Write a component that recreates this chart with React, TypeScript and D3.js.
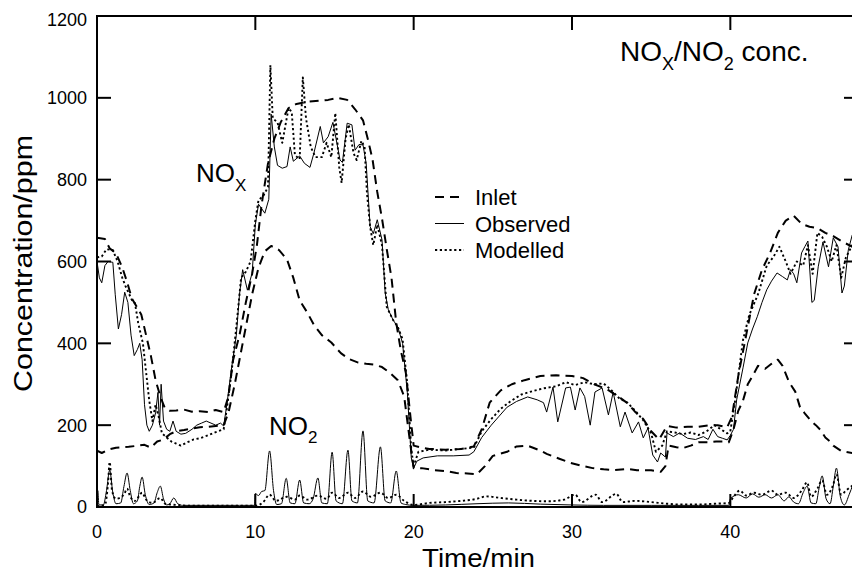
import React from "react";
import * as d3 from "d3";

type Pt = [number, number];

// x tick values (min) and y tick values (ppm)
const xTicks = [0, 10, 20, 30, 40];
const yTicks = [0, 200, 400, 600, 800, 1000, 1200];

const legendLabels = ["Inlet", "Observed", "Modelled"];

// Inlet NOx (upper dashed)
const inletNOx: Pt[] = [
  [0, 658], [0.5, 655], [0.8, 632], [1.2, 620], [1.6, 585], [1.9, 550], [2.2, 510], [2.5, 490], [2.8, 470],
  [3.1, 420], [3.4, 370], [3.7, 310], [4.0, 270], [4.3, 240], [4.6, 235], [5, 236], [5.5, 238], [6, 233],
  [6.5, 234], [7, 232], [7.5, 237], [8, 232], [8.3, 270], [8.6, 360], [9, 420], [9.4, 500], [9.8, 570],
  [10.1, 640], [10.4, 740], [10.8, 840], [11.2, 900], [11.6, 940], [12.1, 975], [12.6, 985], [13.2, 990],
  [14, 993], [14.6, 995], [15.2, 1000], [15.8, 995], [16.3, 972], [16.8, 945], [17.1, 900], [17.4, 850],
  [17.7, 770], [18, 705], [18.3, 630], [18.6, 560], [18.9, 450], [19.2, 380], [19.5, 330], [19.8, 220],
  [20, 150], [20.5, 145], [21, 142], [22, 140], [23, 142], [23.8, 148], [24.3, 190], [24.8, 255], [25.5, 285],
  [26.2, 300], [27, 310], [28, 320], [29, 322], [30, 320], [30.7, 315], [31.4, 300], [32.2, 288], [33, 268],
  [33.5, 254], [34, 232], [34.5, 215], [35, 185], [35.5, 165], [36, 198], [36.6, 194], [37.3, 196], [38, 196],
  [38.7, 200], [39.2, 200], [39.8, 195], [40.1, 220], [40.5, 320], [41, 420], [41.5, 520], [42, 580],
  [42.5, 620], [43, 670], [43.5, 700], [44, 712], [44.5, 692], [45, 685], [45.5, 682], [46, 670], [46.5, 662],
  [47, 650], [48, 630],
];

// Second inlet trace (lower dashed)
const inletNO2: Pt[] = [
  [0, 138], [0.3, 132], [0.7, 140], [1.2, 145], [2.0, 147], [2.6, 150], [3.0, 152], [3.4, 145], [3.8, 160],
  [4.2, 165], [4.6, 178], [5.0, 185], [5.5, 188], [6.0, 192], [6.5, 195], [7.0, 196], [7.5, 198], [8.0, 200],
  [8.3, 230], [8.7, 300], [9.0, 360], [9.4, 440], [9.8, 520], [10.2, 585], [10.6, 625], [11.0, 638],
  [11.5, 628], [12.0, 605], [12.4, 560], [12.8, 505], [13.3, 474], [13.7, 445], [14.2, 420], [14.8, 402],
  [15.4, 376], [15.9, 362], [16.5, 353], [17.0, 350], [17.5, 348], [18.0, 342], [18.5, 328], [19.0, 310],
  [19.4, 270], [19.8, 150], [20.0, 95], [20.5, 95], [21.3, 90], [22, 88], [22.7, 83], [23.4, 82], [24, 80],
  [24.5, 100], [25, 125], [25.9, 135], [26.5, 148], [27.2, 150], [28.0, 138], [28.4, 130], [29.2, 118],
  [29.9, 108], [30.7, 100], [31.3, 95], [32, 92], [32.6, 90], [33.5, 93], [34.1, 90], [35, 90], [35.6, 86],
  [35.9, 100], [36.1, 150], [36.6, 146], [37, 144], [37.5, 150], [38, 158], [38.6, 158], [39.1, 160],
  [39.5, 160], [39.9, 158], [40.2, 190], [40.5, 235], [40.8, 260], [41.1, 300], [41.4, 320], [41.75, 345],
  [42.2, 338], [42.6, 350], [43.0, 360], [43.3, 345], [43.7, 306], [44.1, 282], [44.4, 244], [44.7, 229],
  [45.1, 210], [45.4, 200], [45.7, 188], [46.0, 170], [46.3, 160], [46.5, 150], [47.0, 137], [48, 130],
];

// Observed NOx (solid)
const observedNOx: Pt[] = [
  [0, 600], [0.15, 560], [0.3, 548], [0.5, 590], [0.7, 600], [1.0, 598], [1.15, 520], [1.35, 435], [1.55, 470],
  [1.75, 525], [1.95, 500], [2.15, 420], [2.35, 370], [2.55, 385], [2.7, 400], [2.85, 360], [3.0, 250],
  [3.15, 200], [3.3, 185], [3.5, 200], [3.7, 230], [3.85, 280], [3.95, 200], [4.05, 300], [4.2, 210],
  [4.4, 190], [4.6, 185], [4.8, 210], [5.0, 185], [5.3, 178], [5.6, 180], [6.0, 190], [6.3, 200], [6.6, 205],
  [6.9, 210], [7.2, 205], [7.5, 200], [7.8, 205], [8.0, 198], [8.2, 250], [8.5, 340], [8.8, 420], [9.0, 520],
  [9.2, 580], [9.5, 530], [9.8, 572], [10.0, 690], [10.2, 740], [10.6, 718], [10.85, 752], [11.0, 960],
  [11.2, 880], [11.4, 835], [11.7, 828], [12.0, 832], [12.2, 880], [12.4, 845], [12.8, 858], [13.1, 840],
  [13.45, 830], [13.7, 865], [14.1, 930], [14.3, 890], [14.6, 905], [14.9, 940], [15.1, 900], [15.35, 848],
  [15.5, 842], [15.8, 938], [16.1, 934], [16.3, 872], [16.55, 886], [16.8, 885], [17.0, 840], [17.25, 685],
  [17.45, 668], [17.7, 702], [18.0, 653], [18.2, 523], [18.4, 482], [18.7, 457], [19.0, 440], [19.3, 400],
  [19.6, 280], [19.85, 120], [20.0, 95], [20.2, 112], [20.6, 120], [21.5, 125], [22.5, 125], [23.5, 127],
  [23.8, 135], [24.3, 170], [24.9, 200], [25.4, 222], [25.9, 244], [26.5, 258], [27.2, 269], [27.8, 262],
  [28.2, 255], [28.4, 232], [28.8, 293], [29.1, 208], [29.6, 291], [29.9, 293], [30.2, 237], [30.5, 291],
  [30.8, 270], [31.15, 200], [31.45, 281], [31.9, 291], [32.3, 225], [32.6, 281], [33.05, 196], [33.35, 232],
  [33.8, 181], [34.2, 208], [34.5, 169], [34.8, 193], [35.1, 127], [35.4, 110], [35.6, 132], [35.9, 122],
  [36.0, 181], [36.4, 172], [36.8, 181], [37.3, 168], [37.8, 165], [38.3, 172], [38.6, 165], [38.9, 190],
  [39.2, 172], [39.5, 168], [39.8, 164], [40.0, 175], [40.2, 190], [40.4, 262], [40.8, 340], [41.1, 401],
  [41.4, 435], [41.7, 465], [42.0, 500], [42.3, 531], [42.6, 552], [42.95, 572], [43.3, 563], [43.6, 555],
  [43.8, 580], [44.0, 570], [44.2, 548], [44.5, 621], [44.7, 636], [44.9, 650], [45.15, 500], [45.3, 505],
  [45.55, 587], [45.85, 648], [46.2, 587], [46.5, 658], [46.8, 636], [47.05, 523], [47.2, 540], [47.45, 628],
  [47.7, 665], [48, 660],
];

// Modelled NOx (dotted)
const modelledNOx: Pt[] = [
  [0, 610], [0.3, 612], [0.6, 630], [1.0, 628], [1.3, 600], [1.6, 560], [1.8, 540], [2.0, 523], [2.2, 506],
  [2.4, 498], [2.6, 450], [2.9, 400], [3.1, 330], [3.3, 260], [3.5, 210], [3.7, 250], [3.9, 220], [4.1, 180],
  [4.4, 170], [4.7, 160], [5.0, 155], [5.3, 150], [5.7, 158], [6.1, 165], [6.5, 168], [7.0, 175], [7.5, 183],
  [8.0, 190], [8.2, 240], [8.5, 330], [8.8, 440], [9.1, 560], [9.4, 575], [9.7, 600], [10.0, 700],
  [10.2, 750], [10.5, 760], [10.8, 782], [10.95, 1080], [11.1, 950], [11.4, 940], [11.7, 890], [12.1, 975],
  [12.3, 965], [12.5, 860], [12.8, 850], [13.0, 1050], [13.2, 950], [13.5, 880], [13.8, 855], [14.2, 855],
  [14.5, 890], [14.8, 855], [15.05, 963], [15.3, 830], [15.45, 792], [15.7, 900], [15.9, 935], [16.2, 865],
  [16.4, 848], [16.7, 895], [16.9, 880], [17.05, 767], [17.25, 685], [17.45, 640], [17.7, 690], [18.0, 640],
  [18.3, 489], [18.7, 457], [19.0, 440], [19.3, 410], [19.6, 300], [19.85, 140], [20.0, 100], [20.3, 135],
  [21, 140], [22, 138], [23, 142], [23.8, 145], [24.3, 185], [24.9, 215], [25.5, 240], [26.1, 258],
  [26.8, 275], [27.5, 283], [28.2, 290], [29, 295], [29.6, 305], [30.2, 298], [30.8, 305], [31.4, 300],
  [32, 302], [32.5, 285], [33, 265], [33.5, 255], [34, 235], [34.5, 212], [35.0, 180], [35.3, 135],
  [35.7, 150], [36.0, 185], [36.5, 182], [37, 178], [37.5, 182], [38, 176], [38.5, 185], [39.0, 200],
  [39.4, 190], [39.8, 180], [40.0, 185], [40.3, 260], [40.8, 408], [41.2, 470], [41.75, 520], [42.3, 590],
  [42.7, 610], [43.1, 636], [43.5, 600], [43.8, 570], [44.2, 600], [44.6, 590], [44.9, 640], [45.2, 570],
  [45.5, 670], [45.8, 660], [46.1, 636], [46.4, 600], [46.7, 640], [47.0, 560], [47.3, 610], [47.7, 640],
  [48, 630],
];

// Observed NO2 (solid)
const observedNO2: Pt[] = [
  [0, 3], [0.05, 40], [0.12, 5], [0.4, 5], [0.6, 40], [0.8, 90], [1.0, 35], [1.2, 8], [1.5, 10], [1.7, 50],
  [1.9, 83], [2.1, 40], [2.3, 8], [2.55, 15], [2.7, 50], [2.85, 73], [3.05, 30], [3.3, 6], [3.6, 10],
  [3.8, 35], [4.0, 51], [4.2, 20], [4.4, 5], [4.6, 8], [4.85, 22], [5.1, 8], [5.4, 4], [6, 4], [7, 4], [8, 4],
  [9, 4], [9.95, 4], [10.0, 33], [10.2, 28], [10.4, 38], [10.6, 40], [10.9, 137], [11.15, 40], [11.35, 6],
  [11.65, 8], [11.95, 70], [12.2, 10], [12.5, 8], [12.8, 66], [13.05, 10], [13.4, 8], [13.65, 20],
  [13.95, 71], [14.2, 10], [14.55, 8], [14.85, 134], [15.1, 15], [15.5, 8], [15.85, 139], [16.1, 15],
  [16.45, 10], [16.8, 186], [17.1, 15], [17.5, 10], [17.9, 147], [18.2, 15], [18.55, 10], [18.9, 88],
  [19.2, 10], [19.5, 6], [20, 4], [22, 5], [24, 8], [26, 10], [28, 7], [30, 5], [32, 4], [35, 4], [38, 4],
  [39.9, 4], [40.0, 20], [40.5, 30], [41.0, 22], [41.4, 32], [41.8, 24], [42.2, 30], [42.6, 22], [43.0, 30],
  [43.4, 15], [43.7, 25], [44.0, 12], [44.3, 8], [44.6, 35], [44.85, 51], [45.1, 10], [45.4, 8], [45.6, 45],
  [45.8, 76], [46.05, 20], [46.3, 8], [46.5, 50], [46.7, 95], [46.95, 25], [47.2, 5], [47.5, 30], [48, 85],
];

// Modelled NO2 (dotted)
const modelledNO2: Pt[] = [
  [0, 2], [0.5, 5], [0.7, 60], [0.8, 110], [0.95, 40], [1.2, 20], [1.7, 30], [1.9, 45], [2.1, 25], [2.4, 15],
  [2.85, 35], [3.1, 18], [3.5, 10], [4.0, 22], [4.3, 8], [5, 5], [6, 3], [8, 3], [10, 3], [10.5, 12],
  [10.9, 30], [11.3, 15], [12, 25], [12.5, 18], [12.8, 28], [13.3, 18], [13.95, 28], [14.5, 20], [14.85, 35],
  [15.3, 22], [15.85, 35], [16.3, 22], [16.8, 38], [17.3, 25], [17.9, 35], [18.4, 22], [18.9, 30],
  [19.4, 15], [20, 5], [21, 10], [22, 12], [23, 15], [24, 20], [24.6, 26], [25.5, 22], [26.5, 18],
  [27.5, 15], [28.5, 14], [29.5, 18], [30.2, 30], [30.6, 12], [31.5, 30], [31.9, 12], [32.8, 32], [33.2, 12],
  [34, 15], [35, 12], [36, 8], [37, 6], [38, 6], [39, 8], [39.9, 10], [40.2, 25], [40.6, 40], [41, 28],
  [41.5, 35], [42, 30], [42.6, 40], [43, 30], [43.5, 35], [44, 22], [44.5, 40], [44.85, 60], [45.1, 25],
  [45.5, 45], [45.8, 65], [46.1, 30], [46.5, 55], [46.7, 80], [47, 30], [47.3, 40], [48, 60],
];

const W = 852;
const H = 574;
const FONT = "'Liberation Sans', Arial, Helvetica, sans-serif";

export default function App() {
  const x = d3.scaleLinear().domain([0, 48]).range([97, 857]);
  const y = d3.scaleLinear().domain([0, 1200]).range([507, 16]);
  const line = d3.line<Pt>().x((d) => x(d[0])).y((d) => y(d[1]));
  const smooth = d3
    .line<Pt>()
    .x((d) => x(d[0]))
    .y((d) => y(d[1]))
    .curve(d3.curveMonotoneX);

  const dashed = { stroke: "#000", strokeWidth: 2, strokeDasharray: "9 6", fill: "none" };
  const solid = { stroke: "#000", strokeWidth: 1, fill: "none" };
  const dotted = { stroke: "#000", strokeWidth: 1.9, strokeDasharray: "2.2 2.6", fill: "none" };

  const series: { data: Pt[]; style: any; gen: any }[] = [
    { data: inletNOx, style: dashed, gen: line },
    { data: inletNO2, style: dashed, gen: line },
    { data: modelledNOx, style: dotted, gen: line },
    { data: observedNOx, style: solid, gen: line },
    { data: modelledNO2, style: dotted, gen: smooth },
    { data: observedNO2, style: solid, gen: smooth },
  ];

  const [x0, x1] = x.range();
  const [y0, y1] = y.range();
  const legendStyles = [dashed, solid, dotted];

  return (
    <svg
      width={W}
      height={H}
      style={{ position: "absolute", left: 0, top: 0, background: "#fff" }}
      fontFamily={FONT}
    >
      <defs>
        <clipPath id="plotclip">
          <rect x={x0} y={y1 - 2} width={x1 - x0} height={y0 - y1 + 2} />
        </clipPath>
      </defs>
      <rect x={0} y={0} width={W} height={H} fill="#fff" />
      <g clipPath="url(#plotclip)">
        {series.map((s, i) => (
          <path key={i} d={s.gen(s.data) || ""} {...s.style} strokeLinejoin="round" />
        ))}
      </g>
      {/* frame */}
      <rect x={x0} y={y1} width={x1 - x0} height={y0 - y1} fill="none" stroke="#000" strokeWidth={2} />
      {/* y ticks */}
      {yTicks.map((v) => (
        <g key={"y" + v}>
          <line x1={x0} x2={x0 + 14} y1={y(v)} y2={y(v)} stroke="#000" strokeWidth={2} />
          <line x1={x1} x2={x1 - 13} y1={y(v)} y2={y(v)} stroke="#000" strokeWidth={2} />
          <text
            x={87}
            y={y(v) + (v === 1200 ? 4 : 0)}
            dy="0.36em"
            textAnchor="end"
            fontSize={18}
          >
            {v}
          </text>
        </g>
      ))}
      {/* x ticks */}
      {xTicks.map((t) => (
        <g key={"x" + t}>
          <line x1={x(t)} x2={x(t)} y1={y0} y2={y0 - 13} stroke="#000" strokeWidth={2} />
          <line x1={x(t)} x2={x(t)} y1={y1} y2={y1 + 14} stroke="#000" strokeWidth={2} />
          <text x={x(t)} y={538} textAnchor="middle" fontSize={18}>
            {t}
          </text>
        </g>
      ))}
      {/* axis titles */}
      <text x={478.5} y={567} textAnchor="middle" fontSize={25} textLength={113} lengthAdjust="spacingAndGlyphs">
        Time/min
      </text>
      <text
        transform="translate(32,263.5) rotate(-90)"
        textAnchor="middle"
        fontSize={26}
        textLength={257}
        lengthAdjust="spacingAndGlyphs"
      >
        Concentration/ppm
      </text>
      {/* title */}
      <text x={620} y={61} fontSize={28}>
        NO<tspan fontSize={18} dy={9}>X</tspan>
        <tspan dy={-9}>/NO</tspan>
        <tspan fontSize={18} dy={9}>2</tspan>
        <tspan dy={-9}> conc.</tspan>
      </text>
      {/* annotations */}
      <text x={196} y={182} fontSize={26}>
        NO<tspan fontSize={17} dy={9}>X</tspan>
      </text>
      <text x={269} y={435} fontSize={26}>
        NO<tspan fontSize={17} dy={8}>2</tspan>
      </text>
      {/* legend */}
      {legendLabels.map((lab, i) => {
        const ly = 197 + i * 26.5;
        return (
          <g key={lab}>
            <line x1={435} x2={464} y1={ly} y2={ly} {...legendStyles[i]} />
            <text x={475} y={ly + 8} fontSize={22}>
              {lab}
            </text>
          </g>
        );
      })}
    </svg>
  );
}
